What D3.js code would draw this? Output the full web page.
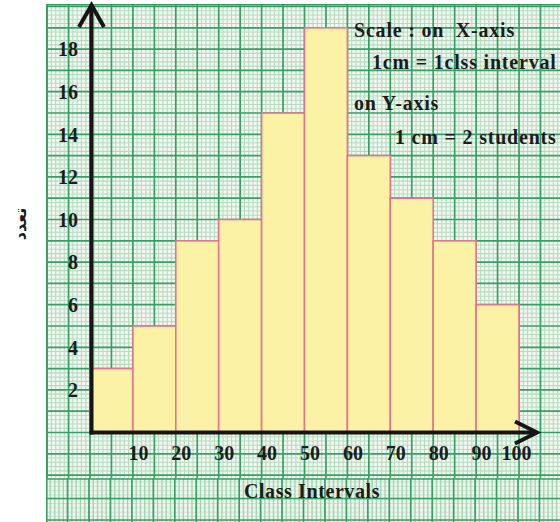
<!DOCTYPE html>
<html>
<head>
<meta charset="utf-8">
<script src="https://cdn.jsdelivr.net/npm/d3@7"></script>
<style>
  html, body { margin: 0; padding: 0; background: #ffffff; }
  svg { display: block; }
  .lbl { font-family: "Liberation Serif", "Times New Roman", serif; font-weight: bold; fill: #1c1c1c; }
</style>
</head>
<body>
<svg id="chart" width="560" height="522"></svg>
<script>
// Class intervals (lower bounds) and the number of students in each
const classStarts = [0, 10, 20, 30, 40, 50, 60, 70, 80, 90];
const classWidth = 10;
const frequencies = [3, 5, 9, 10, 15, 19, 13, 11, 9, 6];
const xTickValues = [10, 20, 30, 40, 50, 60, 70, 80, 90, 100];
const yTickValues = [2, 4, 6, 8, 10, 12, 14, 16, 18];
const scaleNotes = ["Scale : on  X-axis", "1cm = 1clss interval", "on Y-axis", "1 cm = 2 students"];
const xTitle = "Class Intervals";
const yTitle = "تعدد";

const W = 560, H = 522;
const svg = d3.select("#chart");

const x = d3.scaleLinear().domain([0, 100]).range([90, 519]);
const y = d3.scaleLinear().domain([0, 20]).range([432.5, 6.5]);

// ---- graph paper ----
const paper = { left: 46, top: 4, right: W, bottom: H, band: 478 };
svg.append("defs").append("clipPath").attr("id", "paperClip")
  .append("rect").attr("x", paper.left).attr("y", paper.top)
  .attr("width", paper.right - paper.left).attr("height", paper.bottom - paper.top);

const g = svg.append("g").attr("clip-path", "url(#paperClip)");
g.append("rect").attr("x", paper.left).attr("y", paper.top)
  .attr("width", paper.right - paper.left).attr("height", paper.bottom - paper.top)
  .attr("fill", "#f2f8f1");

const xs = d3.range(-12, 121, 1);           // one step = 1 class unit
const ysFine = d3.range(-5, 21.01, 0.2);     // fine rows

// main sheet: fine lines
g.append("g").selectAll("line").data(xs.filter(v => v % 5 !== 0)).join("line")
  .attr("x1", d => x(d)).attr("x2", d => x(d))
  .attr("y1", paper.top).attr("y2", paper.band)
  .attr("stroke", "#b6dbbf").attr("stroke-width", 1.1);
g.append("g").selectAll("line").data(ysFine.filter(v => Math.abs(v - Math.round(v)) > 0.01)).join("line")
  .attr("x1", paper.left).attr("x2", paper.right)
  .attr("y1", d => y(d)).attr("y2", d => y(d))
  .attr("stroke", "#b6dbbf").attr("stroke-width", 1.1);
// main sheet: major lines
g.append("g").selectAll("line").data(xs.filter(v => v % 5 === 0)).join("line")
  .attr("x1", d => x(d)).attr("x2", d => x(d))
  .attr("y1", paper.top).attr("y2", paper.band)
  .attr("stroke", "#34a063").attr("stroke-width", 1.7);
g.append("g").selectAll("line").data(d3.range(-2, 21, 1)).join("line")
  .attr("x1", paper.left).attr("x2", paper.right)
  .attr("y1", d => y(d)).attr("y2", d => y(d))
  .attr("stroke", "#34a063").attr("stroke-width", 1.7);

// lower strip of the sheet
const band = g.append("g");
band.append("rect").attr("x", paper.left).attr("y", paper.band)
  .attr("width", paper.right - paper.left).attr("height", paper.bottom - paper.band)
  .attr("fill", "#eef6ee");
band.selectAll("line.bf").data(d3.range(paper.band + 4, paper.bottom, 4.3)).join("line")
  .attr("x1", paper.left).attr("x2", paper.right)
  .attr("y1", d => d).attr("y2", d => d)
  .attr("stroke", "#cde6d2").attr("stroke-width", 1);
band.selectAll("line.vf").data(xs.filter(v => v % 5 !== 0)).join("line")
  .attr("x1", d => x(d) - 1).attr("x2", d => x(d) - 1)
  .attr("y1", paper.band).attr("y2", paper.bottom)
  .attr("stroke", "#a6d3b2").attr("stroke-width", 1.4);
band.selectAll("line.vm").data(xs.filter(v => v % 5 === 0)).join("line")
  .attr("x1", d => x(d) - 1).attr("x2", d => x(d) - 1)
  .attr("y1", paper.band).attr("y2", paper.bottom)
  .attr("stroke", "#34a063").attr("stroke-width", 1.7);
band.selectAll("line.hm").data([paper.band + 1, 498.5, 520]).join("line")
  .attr("x1", paper.left).attr("x2", paper.right)
  .attr("y1", d => d).attr("y2", d => d)
  .attr("stroke", "#34a063").attr("stroke-width", 1.6);
// sheet edge
svg.append("rect").attr("x", paper.left + 0.8).attr("y", paper.top + 0.8)
  .attr("width", paper.right - paper.left).attr("height", paper.bottom - paper.top)
  .attr("fill", "none").attr("stroke", "#3a9f66").attr("stroke-width", 1.6);

// ---- histogram bars ----
svg.append("g").selectAll("rect").data(classStarts).join("rect")
  .attr("x", (d) => x(d))
  .attr("y", (d, i) => y(frequencies[i]))
  .attr("width", d => x(d + classWidth) - x(d))
  .attr("height", (d, i) => y(0) - y(frequencies[i]))
  .attr("fill", "#fcf2a6")
  .attr("stroke", "#e5738c")
  .attr("stroke-width", 1.6);

// ---- axes ----
const axisColor = "#151515";
const yAxis = svg.append("g").attr("transform", `translate(${x(0)},0)`)
  .call(d3.axisLeft(y).tickValues(yTickValues).tickSize(0).tickPadding(12).tickFormat(d3.format("d")));
yAxis.select(".domain").remove();
yAxis.selectAll("text").attr("class", "lbl").attr("font-size", 20).attr("dy", "0.34em").attr("fill", "#1c1c1c");

const xAxis = svg.append("g").attr("transform", `translate(0,${y(0)})`)
  .call(d3.axisBottom(x).tickValues(xTickValues).tickSize(0).tickPadding(13).tickFormat(d3.format("d")));
xAxis.select(".domain").remove();
xAxis.selectAll("text").attr("class", "lbl").attr("font-size", 20)
  .attr("dx", d => d === 100 ? -3 : 5).attr("fill", "#1c1c1c");

// axis lines with open arrowheads
const x0 = x(0) + 1.5, y0 = y(0);
const yTop = 5, xEnd = 537;
svg.append("path")
  .attr("d", `M${x0},${y0 + 2} L${x0},${yTop + 2}`)
  .attr("stroke", axisColor).attr("stroke-width", 4).attr("fill", "none");
svg.append("path")
  .attr("d", `M${x0 - 12.5},${yTop + 22} L${x0},${yTop} L${x0 + 12.5},${yTop + 22}`)
  .attr("stroke", axisColor).attr("stroke-width", 4).attr("fill", "none").attr("stroke-linejoin", "miter");
svg.append("path")
  .attr("d", `M${x0 - 2},${y0} L${xEnd - 2},${y0}`)
  .attr("stroke", axisColor).attr("stroke-width", 4).attr("fill", "none");
svg.append("path")
  .attr("d", `M${xEnd - 22},${y0 - 11} L${xEnd},${y0} L${xEnd - 22},${y0 + 11}`)
  .attr("stroke", axisColor).attr("stroke-width", 4).attr("fill", "none");

// ---- titles ----
svg.append("text").attr("class", "lbl").attr("font-size", 20).attr("letter-spacing", 0.6)
  .attr("x", 312).attr("y", 498).attr("text-anchor", "middle").text(xTitle);

svg.append("text")
  .attr("transform", "translate(26,224) rotate(-90)")
  .attr("text-anchor", "middle")
  .attr("font-family", "DejaVu Sans, Noto Sans, sans-serif")
  .attr("font-weight", "bold").attr("font-size", 16).attr("fill", "#1c1c1c")
  .text(yTitle);

// scale note in the upper right corner
const notePos = [[354, 37], [372, 69], [354, 110], [395, 144]];
svg.append("g").selectAll("text").data(scaleNotes).join("text")
  .attr("class", "lbl").attr("font-size", 20).attr("letter-spacing", 0.8)
  .attr("x", (d, i) => notePos[i][0]).attr("y", (d, i) => notePos[i][1])
  .attr("xml:space", "preserve")
  .text(d => d);
</script>
</body>
</html>
